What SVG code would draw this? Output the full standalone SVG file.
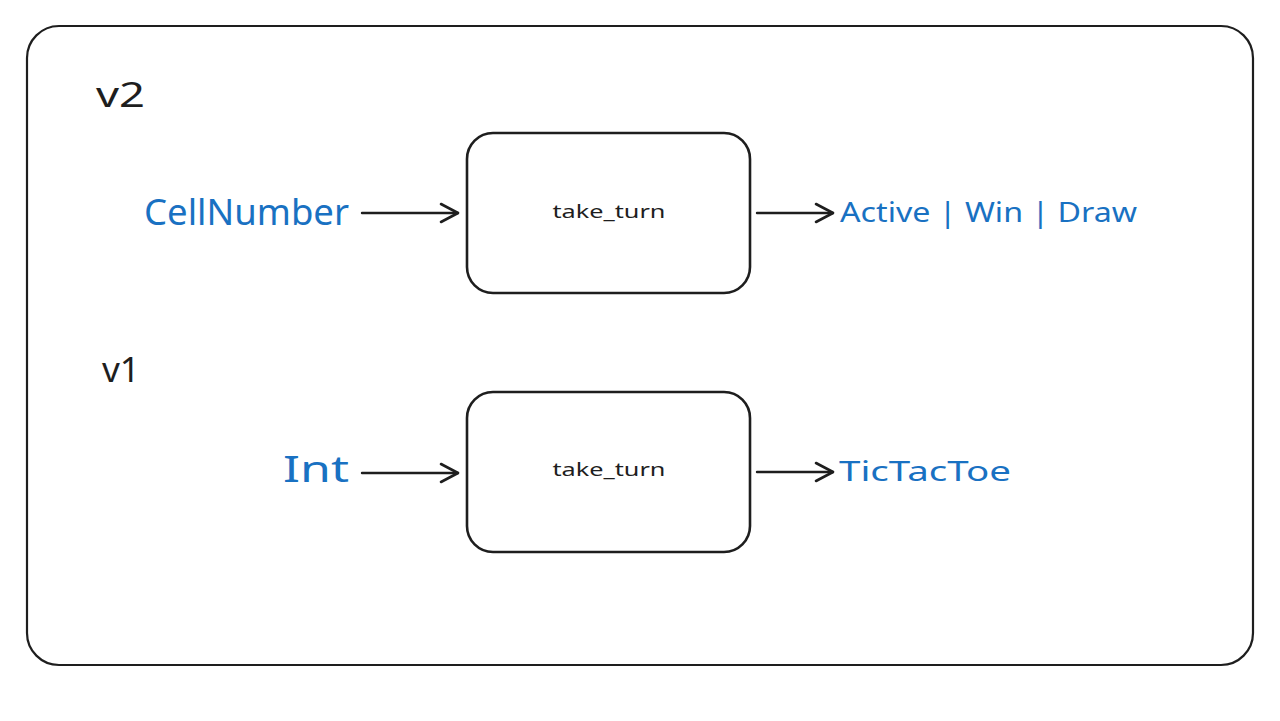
<svg xmlns="http://www.w3.org/2000/svg" width="1280" height="721" viewBox="0 0 1280 721">
<style>
.frame{fill:#fff;stroke:#1e1e1e;stroke-width:2.2}
.box{fill:#fff;stroke:#1e1e1e;stroke-width:2.6}
.lbl{font-family:"Noto Sans","Liberation Sans",sans-serif;fill:#1e1e1e}
.blue{font-family:"Noto Sans","Liberation Sans",sans-serif;fill:#1971c2}
.edge{fill:none;stroke:#1e1e1e;stroke-width:2.4;stroke-linecap:round;stroke-linejoin:round}
</style>
<defs>
<marker id="ah" markerWidth="22" markerHeight="22" refX="19" refY="11" orient="auto" markerUnits="userSpaceOnUse">
<path d="M2,2 L19,11 L2,20" fill="none" stroke="#1e1e1e" stroke-width="2.6" stroke-linecap="round" stroke-linejoin="round"/>
</marker>
</defs>
<rect width="1280" height="721" fill="#fff"/>
<g id="frame">
<rect class="frame" x="27" y="26" width="1226" height="639" rx="32"/>
</g>
<g id="label-v2"><text class="lbl" x="96" y="107" font-size="34" textLength="49" lengthAdjust="spacingAndGlyphs">v2</text></g>
<g id="label-v1"><text class="lbl" x="102" y="382" font-size="34" textLength="38" lengthAdjust="spacingAndGlyphs">v1</text></g>
<g id="v2-input"><text class="blue" x="144" y="225" font-size="36" textLength="205" lengthAdjust="spacingAndGlyphs">CellNumber</text></g>
<g id="v2-take_turn">
<rect class="box" x="467" y="133" width="283" height="160" rx="26"/>
<text class="lbl" x="609" y="218" font-size="18" text-anchor="middle" textLength="113" lengthAdjust="spacingAndGlyphs">take_turn</text>
</g>
<g id="v2-output"><text class="blue" x="840" y="222" font-size="28" textLength="297" lengthAdjust="spacingAndGlyphs">Active | Win | Draw</text></g>
<g id="v1-input"><text class="blue" x="283" y="482" font-size="36" textLength="66" lengthAdjust="spacingAndGlyphs">Int</text></g>
<g id="v1-take_turn">
<rect class="box" x="467" y="392" width="283" height="160" rx="26"/>
<text class="lbl" x="609" y="476" font-size="18" text-anchor="middle" textLength="113" lengthAdjust="spacingAndGlyphs">take_turn</text>
</g>
<g id="v1-output"><text class="blue" x="839" y="481" font-size="28" textLength="172" lengthAdjust="spacingAndGlyphs">TicTacToe</text></g>
<g id="connectors">
<path class="edge" d="M362,213 L458,213" marker-end="url(#ah)"/>
<path class="edge" d="M757,213 L833,213" marker-end="url(#ah)"/>
<path class="edge" d="M362,473 L458,473" marker-end="url(#ah)"/>
<path class="edge" d="M757,472 L833,472" marker-end="url(#ah)"/>
</g>
</svg>
